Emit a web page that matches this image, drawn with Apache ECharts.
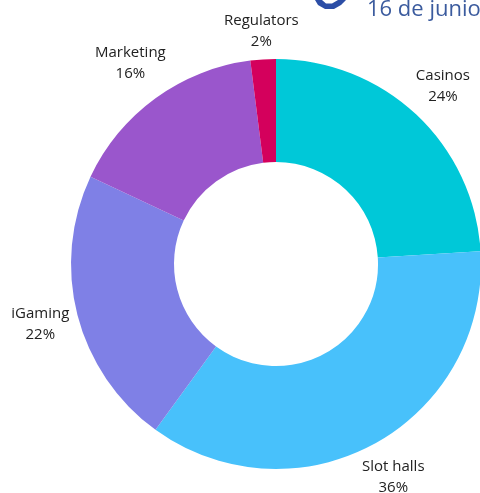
<!DOCTYPE html>
<html>
<head>
<meta charset="utf-8">
<script src="https://cdn.jsdelivr.net/npm/echarts@6/dist/echarts.min.js"></script>
<style>
html,body{margin:0;padding:0;background:#fff;}
#c{width:480px;height:493px;}
</style>
</head>
<body>
<div id="c"></div>
<script>
const categories = ['Casinos', 'Slot halls', 'iGaming', 'Marketing', 'Regulators'];
const values = [24, 36, 22, 16, 2];
const colors = ['#00c8d8', '#48c1fb', '#7f80e6', '#9a56cc', '#d4005c'];

const chart = echarts.init(document.getElementById('c'), null, {renderer: 'canvas'});
chart.setOption({
  animation: false,
  backgroundColor: '#ffffff',
  graphic: [
    {
      type: 'polygon',
      shape: {points: [[315, 0], [318, 5], [325, 9], [334, 9], [341, 5], [346, 0], [338, 0], [332, 3.5], [326, 3.5], [322, 0]]},
      style: {fill: '#2c4ea6'}
    },
    {
      type: 'text',
      left: 367, top: -1,
      style: {text: '16 de junio', fill: '#3b5b9e', font: '22px "Open Sans", sans-serif'}
    }
  ],
  series: [{
    type: 'pie',
    center: [276, 264],
    radius: [102, 205],
    startAngle: 90,
    clockwise: true,
    avoidLabelOverlap: false,
    data: categories.map((c, i) => ({name: c, value: values[i], itemStyle: {color: colors[i]}})),
    label: {
      show: true,
      position: 'outside',
      formatter: p => p.name + '\n' + p.value + '%',
      fontFamily: '"Open Sans", sans-serif',
      fontSize: 15,
      lineHeight: 21,
      color: '#222',
      distanceToLabelLine: 0
    },
    labelLine: {show: true, length: 10, length2: 0, lineStyle: {opacity: 0, width: 0}},
    labelLayout: function (params) {
      const pts = params.labelLinePoints;
      if (!pts) return {};
      const p0 = pts[0], p1 = pts[1];
      let dx = p1[0] - p0[0], dy = p1[1] - p0[1];
      const len = Math.hypot(dx, dy) || 1;
      dx /= len; dy /= len;
      const w = params.labelRect.width, h = params.labelRect.height;
      const d = 5 + Math.abs(dx) * w / 2 + Math.abs(dy) * h / 2;
      return {x: p0[0] + dx * d, y: p0[1] + dy * d, align: 'center', verticalAlign: 'middle'};
    },
    emphasis: {disabled: true}
  }]
});
</script>
</body>
</html>
